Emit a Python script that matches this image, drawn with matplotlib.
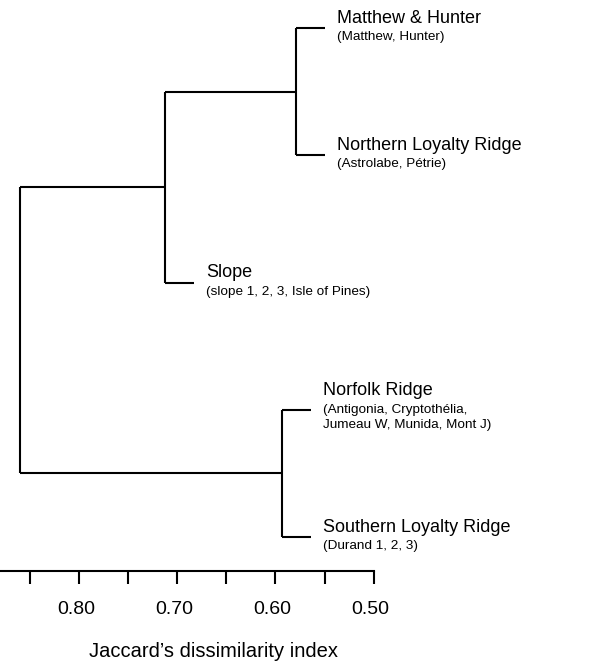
import numpy as np
import matplotlib.pyplot as plt
import matplotlib.transforms as mtransforms

plt.rcParams['font.family'] = ['Liberation Sans', 'DejaVu Sans']

# leaves, top to bottom
leaf_names = ['Matthew & Hunter', 'Northern Loyalty Ridge', 'Slope',
              'Norfolk Ridge', 'Southern Loyalty Ridge']
leaf_sites = ['(Matthew, Hunter)', '(Astrolabe, Pétrie)',
              '(slope 1, 2, 3, Isle of Pines)',
              '(Antigonia, Cryptothélia,\nJumeau W, Munida, Mont J)',
              '(Durand 1, 2, 3)']

# merges: node ids 0-4 are leaves, 5.. are the merges below in order
merge_pairs = [(0, 1), (5, 2), (3, 4), (6, 7)]
merge_heights = [0.579, 0.712, 0.593, 0.860]
stub = 0.029   # length of leaf branches

ticks = [0.85, 0.80, 0.75, 0.70, 0.65, 0.60, 0.55, 0.50]
tick_labels = ['', '0.80', '', '0.70', '', '0.60', '', '0.50']

fig = plt.figure(figsize=(6.07, 6.61), dpi=100)
ax = fig.add_axes([0, 0.136, 1, 0.864])

node_y = {i: float(i) for i in range(len(leaf_names))}
node_x = {}
lw = 1.5

for k, (a, b) in enumerate(merge_pairs):
    h = merge_heights[k]
    nid = len(leaf_names) + k
    ax.plot([h, h], [node_y[a], node_y[b]], color='black', lw=lw,
            solid_capstyle='butt')
    for c in (a, b):
        cx = node_x.get(c, h - stub)
        node_x[c] = cx
        ax.plot([h, cx], [node_y[c], node_y[c]], color='black', lw=lw,
                solid_capstyle='butt')
    node_y[nid] = (node_y[a] + node_y[b]) / 2
    node_x[nid] = h

for i, (name, site) in enumerate(zip(leaf_names, leaf_sites)):
    n_sub = site.count('\n') + 1
    dy = 10 + 9 * (n_sub - 1)
    ax.annotate(name, (node_x[i], node_y[i]), xytext=(12, dy),
                textcoords='offset pixels', ha='left', va='center',
                fontsize=13)
    ax.annotate(site, (node_x[i], node_y[i]), xytext=(12, dy - 13),
                textcoords='offset pixels', ha='left', va='top',
                fontsize=9.7, linespacing=1.35)

ax.set_xlim(0.8805, 0.2624)
ax.set_ylim(4.267, -0.22)

for s in ['left', 'right', 'top']:
    ax.spines[s].set_visible(False)
ax.spines['bottom'].set_linewidth(lw)
ax.spines['bottom'].set_bounds(0.8805, 0.50)
ax.set_yticks([])
ax.set_xticks(ticks)
ax.set_xticklabels(tick_labels)
ax.tick_params(axis='x', direction='out', length=9.4, width=lw,
               labelsize=14, pad=12)

# labels sit a little left of their ticks in the original
shift = mtransforms.ScaledTranslation(-3 / 100, 0, fig.dpi_scale_trans)
for lab in ax.get_xticklabels():
    lab.set_transform(lab.get_transform() + shift)

fig.text(0.351, 0.0068, 'Jaccard\u2019s dissimilarity index', ha='center',
         va='baseline', fontsize=14.5)

fig.savefig('out.png', dpi=100)
